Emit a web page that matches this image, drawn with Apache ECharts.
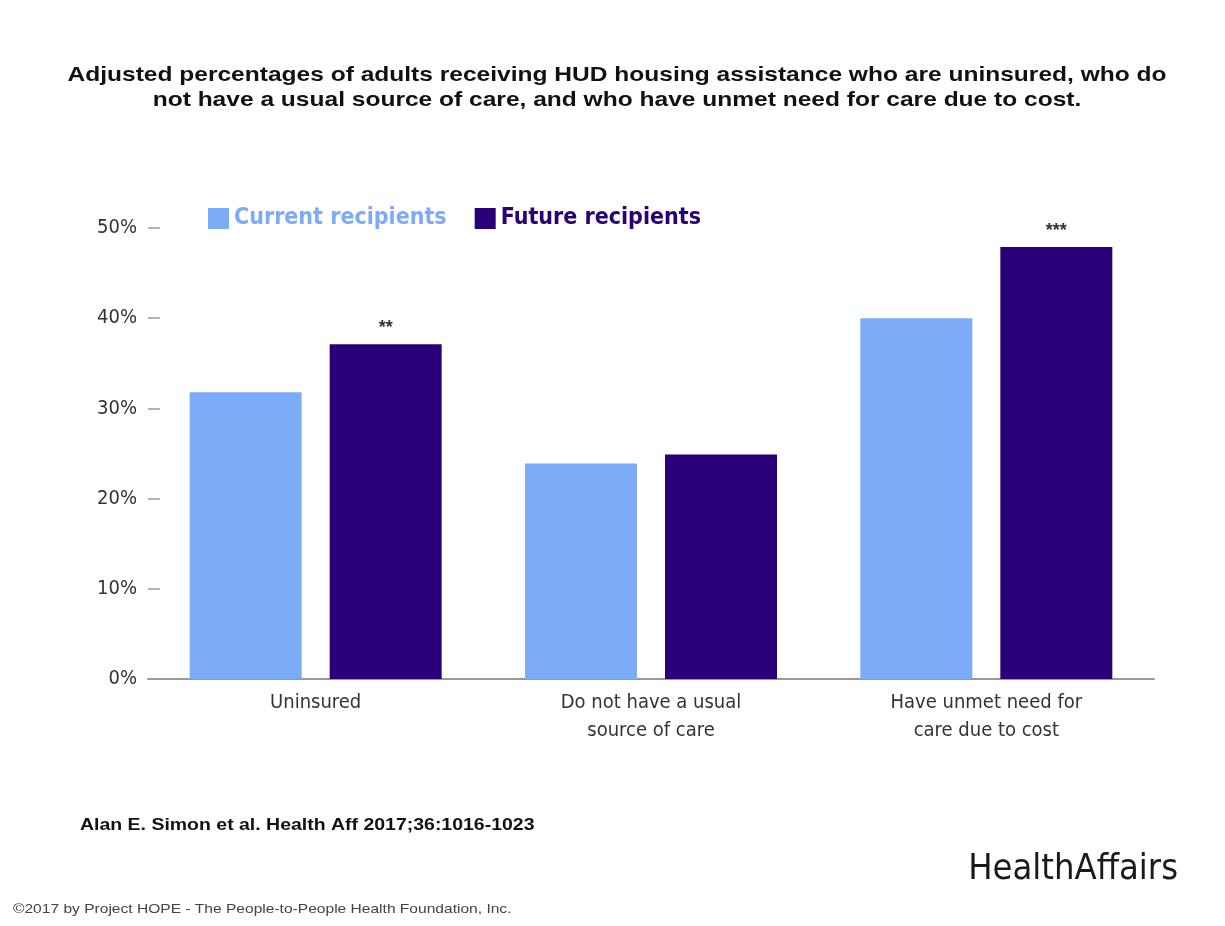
<!DOCTYPE html>
<html>
<head>
<meta charset="utf-8">
<title>HUD housing assistance</title>
<script src="https://cdn.jsdelivr.net/npm/echarts@6/dist/echarts.min.js"></script>
<style>
  html, body { margin: 0; padding: 0; background: #fff; }
  #chart { width: 1225px; height: 926px; }
</style>
</head>
<body>
<div id="chart"></div>
<script>
// data
const categories = ['Uninsured', 'Do not have a usual\nsource of care', 'Have unmet need for\ncare due to cost'];
const currentRecipients = [31.8, 23.9, 40.0];
const futureRecipients = [37.1, 24.9, 47.9];
const significance = ['**', '', '***'];
const yTicks = [0, 10, 20, 30, 40, 50];

const lightBlue = '#7cacf8';
const darkBlue = '#2a0078';
const condensed = '"DejaVu Sans Condensed", "Liberation Sans Narrow", sans-serif';
// the source picture is a little stretched sideways, so the Arial texts get widened too
const stretch = 1.18;

const chart = echarts.init(document.getElementById('chart'));

const option = {
  backgroundColor: '#fff',
  animation: false,
  legend: {
    left: 203,
    top: 202,
    itemWidth: 21,
    itemHeight: 21,
    itemGap: 28,
    icon: 'rect',
    textStyle: { fontFamily: condensed, fontSize: 23, fontWeight: 'bold' },
    data: [
      { name: 'Current recipients', textStyle: { color: lightBlue } },
      { name: 'Future recipients', textStyle: { color: darkBlue } }
    ]
  },
  grid: {
    left: 148,
    right: 71,
    top: 228,
    bottom: 247,
    containLabel: false
  },
  xAxis: {
    type: 'category',
    data: categories,
    axisLine: { lineStyle: { color: '#999', width: 2 } },
    axisTick: { show: false },
    axisLabel: {
      fontFamily: condensed,
      fontSize: 20,
      color: '#333',
      lineHeight: 28,
      margin: 10
    }
  },
  yAxis: {
    type: 'value',
    min: yTicks[0],
    max: yTicks[yTicks.length - 1],
    interval: 10,
    splitLine: { show: false },
    axisLine: { show: false },
    axisTick: { show: true, inside: true, length: 12, lineStyle: { color: '#999', width: 1.5 } },
    axisLabel: {
      formatter: '{value}%',
      fontFamily: condensed,
      fontSize: 20,
      color: '#333',
      margin: 11
    }
  },
  series: [
    {
      name: 'Current recipients',
      type: 'bar',
      data: currentRecipients,
      itemStyle: { color: lightBlue },
      barWidth: 112,
      barGap: '25%',
      barCategoryGap: '25%'
    },
    {
      name: 'Future recipients',
      type: 'bar',
      data: futureRecipients,
      itemStyle: { color: darkBlue },
      barWidth: 112,
      barGap: '25%',
      label: {
        show: true,
        position: 'top',
        distance: 7,
        fontSize: 18,
        fontWeight: 'bold',
        color: '#333',
        formatter: p => significance[p.dataIndex]
      }
    }
  ],
  graphic: [
    {
      type: 'text',
      x: 617,
      y: 63,
      scaleX: stretch,
      style: {
        text: 'Adjusted percentages of adults receiving HUD housing assistance who are uninsured, who do\nnot have a usual source of care, and who have unmet need for care due to cost.',
        font: 'bold 20.8px "Liberation Sans", Arial, sans-serif',
        lineHeight: 25,
        align: 'center',
        verticalAlign: 'top',
        fill: '#111'
      }
    },
    {
      type: 'text',
      x: 80,
      y: 817,
      scaleX: stretch,
      style: {
        text: 'Alan E. Simon et al. Health Aff 2017;36:1016-1023',
        font: 'bold 16.5px "Liberation Sans", Arial, sans-serif',
        verticalAlign: 'top',
        fill: '#111'
      }
    },
    {
      type: 'text',
      x: 13,
      y: 903,
      scaleX: stretch,
      style: {
        text: '\u00a92017 by Project HOPE - The People-to-People Health Foundation, Inc.',
        font: '13.2px "Liberation Sans", Arial, sans-serif',
        verticalAlign: 'top',
        fill: '#444'
      }
    },
    {
      type: 'text',
      x: 1178,
      y: 852,
      style: {
        text: 'HealthAffairs',
        font: '36px "DejaVu Sans Condensed", sans-serif',
        align: 'right',
        verticalAlign: 'top',
        fill: '#1a1a1a'
      }
    }
  ]
};

chart.setOption(option);
</script>
</body>
</html>
